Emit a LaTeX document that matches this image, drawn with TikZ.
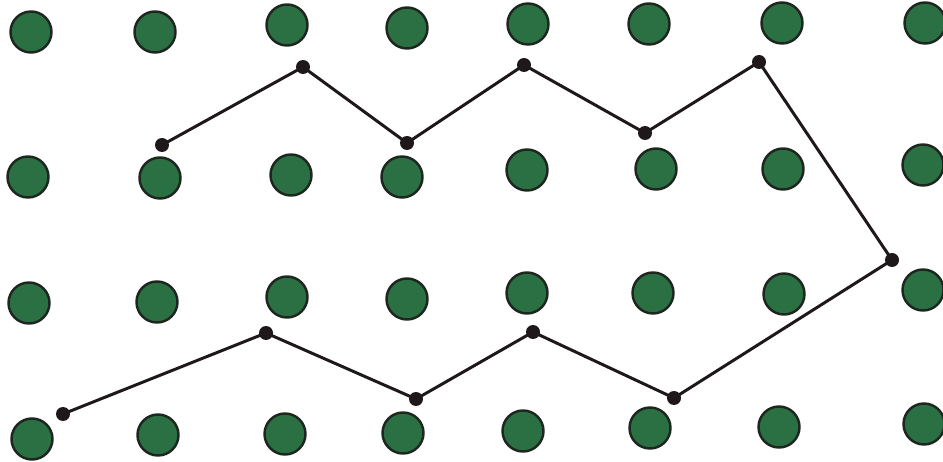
\documentclass[tikz,border=0pt]{standalone}
\usepackage{tikz}
\usetikzlibrary{positioning}

\definecolor{beadgreen}{RGB}{42,112,66}
\definecolor{beadrim}{RGB}{30,38,32}
\definecolor{inkdark}{RGB}{30,24,26}

\begin{document}
\begin{tikzpicture}[x=0.02cm, y=-0.02cm,
  bead/.style={circle, draw=beadrim, fill=beadgreen, line width=1.4pt, minimum size=0.82cm, inner sep=0pt},
  knot/.style={circle, fill=inkdark, minimum size=0.28cm, inner sep=0pt},
  line/.style={draw=inkdark, line width=1.7pt, line join=round}]

  \useasboundingbox (0,0) rectangle (943,462);

  % green dots, row by row
  \foreach \x/\y [count=\i] in {31/32, 155/32, 287/25, 407/28, 528/24, 649/24, 782/23, 925/23,
      28/177, 160/178, 291/175, 402/177, 527/170, 656/169, 783/169, 923/165,
      29/303, 157/302, 287/297, 407/299, 527/293, 653/293, 784/294, 923/290,
      32/439, 158/435, 285/434, 403/433, 523/431, 650/428, 779/427, 924/424}
    \node [bead] (g\i) at (\x,\y) {};

  % path points
  \node [knot] (p1) at (162,145) {};
  \node [knot] (p2) at (303,67) {};
  \node [knot] (p3) at (407,143) {};
  \node [knot] (p4) at (524,65) {};
  \node [knot] (p5) at (645,133) {};
  \node [knot] (p6) at (759,62) {};
  \node [knot] (p7) at (892,260) {};
  \node [knot] (p8) at (674,398) {};
  \node [knot] (p9) at (533,332) {};
  \node [knot] (p10) at (416,399) {};
  \node [knot] (p11) at (266,333) {};
  \node [knot] (p12) at (63,414) {};

  \draw [line] (p1.center) -- (p2.center) -- (p3.center) -- (p4.center) -- (p5.center) -- (p6.center)
    -- (p7.center) -- (p8.center) -- (p9.center) -- (p10.center) -- (p11.center) -- (p12.center);
\end{tikzpicture}
\end{document}
